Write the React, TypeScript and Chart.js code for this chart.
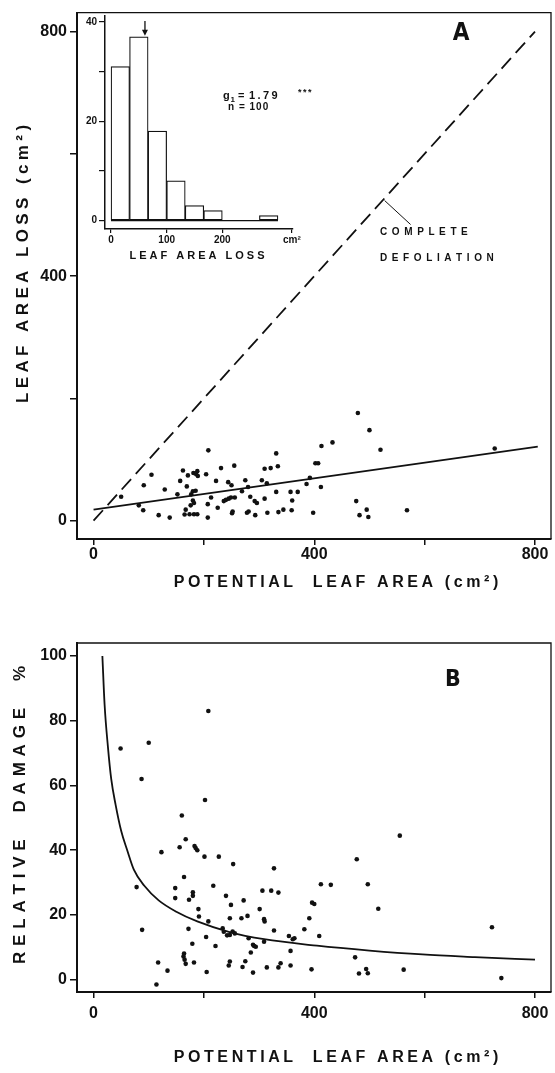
import React, { useEffect, useRef } from 'react';
import { Chart, registerables } from 'chart.js';

Chart.register(...registerables);

const FONT = "'Liberation Sans', Arial, Helvetica, sans-serif";
const NARROW = "'Liberation Sans Narrow', 'DejaVu Sans Condensed', 'Liberation Sans', sans-serif";
const INK = '#111';

// ---------- Panel A : leaf area loss vs potential leaf area ----------
const A_POTENTIAL_AREA = [
  479, 500, 520, 727, 433, 413, 402, 407, 331, 334, 321, 310, 255, 231, 208, 162, 171, 181, 188, 186,
  189, 204, 157, 169, 180, 185, 177, 105, 91, 50, 129, 152, 82, 90, 118, 138, 165, 174, 182, 188,
  167, 180, 182, 176, 207, 207, 213, 222, 225, 236, 240, 245, 249, 256, 251, 252, 244, 250, 269, 275,
  280, 284, 292, 296, 293, 278, 281, 310, 305, 314, 315, 335, 344, 331, 357, 370, 360, 359, 386, 392,
  398, 412, 476, 482, 495, 498, 568,
];
const A_LEAF_LOSS = [
  176, 148, 116, 118, 128, 122, 94, 94, 110, 89, 86, 85, 90, 86, 115, 82, 74, 78, 81, 76,
  73, 76, 65, 56, 48, 49, 43, 75, 58, 39, 51, 43, 25, 17, 9, 5, 10, 10.5, 10.5, 10.5,
  18, 33, 29, 25, 27, 5, 38, 65, 21, 32, 34, 36, 38, 38, 12, 15, 63, 58, 48, 66,
  55, 39, 32, 29, 9, 13, 15, 36, 66, 61, 13, 14, 18, 47, 47, 47, 33, 17, 60, 70,
  13, 55, 32, 9, 18, 6, 17,
];
const A_REGRESSION_X = [0, 805];
const A_REGRESSION_Y = [18, 121];
const DEFOLIATION_X = [0, 800];
const DEFOLIATION_Y = [0, 800];
const MAIN_TICK_LABELS = [0, 400, 800];

// ---------- Inset : histogram of leaf area loss ----------
const HIST_BIN_CENTERS = [16.7, 50, 83.3, 116.7, 150, 183.3, 216.7, 250, 283.3];
const HIST_COUNTS = [31, 37, 18, 8, 3, 2, 0, 0, 1];
const INSET_X_TICKS = [0, 100, 200];
const INSET_UNIT_AT = 325;
const INSET_Y_LABELS = [0, 20, 40];
const HIST_ARROW = { x: 61, from: 39.6, to: 37.2 };

// ---------- Panel B : relative damage vs potential leaf area ----------
const B_POTENTIAL_AREA = [
  78, 88, 123, 117, 114, 134, 148, 148, 156, 167, 164, 172, 173, 180, 180, 183, 185, 188, 201, 227,
  253, 179, 164, 163, 165, 167, 182, 190, 191, 204, 208, 205, 221, 217, 234, 240, 249, 247, 236, 242,
  247, 252, 256, 247, 245, 268, 272, 279, 270, 275, 281, 285, 289, 291, 294, 289, 301, 306, 309, 310,
  309, 314, 322, 327, 327, 335, 335, 339, 354, 357, 357, 361, 364, 382, 391, 396, 400, 395, 409, 412,
  430, 474, 477, 481, 494, 497, 497, 516, 555, 562, 722, 739, 49, 100, 87, 208, 202, 160,
];
const B_RELATIVE_DAMAGE = [
  28.6, 15.4, 39.4, 5.3, -1.5, 2.8, 28.3, 25.2, 40.9, 43.4, 31.7, 15.7, 24.7, 27.0, 25.9, 41.3, 40.7, 40.0, 38.0, 38.0,
  35.7, 11.1, 8.1, 7.2, 6.2, 4.9, 5.3, 21.8, 19.5, 13.2, 18.0, 2.4, 10.4, 29.0, 15.9, 25.9, 23.1, 19.0, 14.8, 13.7,
  13.8, 14.9, 14.3, 5.6, 4.4, 19.0, 24.5, 19.7, 3.9, 5.7, 12.8, 8.4, 10.8, 10.4, 10.2, 2.2, 21.8, 27.5, 18.7, 18.0,
  11.7, 3.8, 27.5, 34.4, 15.2, 26.9, 3.8, 5.1, 13.5, 8.9, 4.4, 12.5, 12.8, 15.6, 19.0, 23.8, 23.4, 3.2, 13.5, 29.5,
  29.3, 6.9, 37.2, 1.9, 3.3, 2.0, 29.5, 21.9, 44.5, 3.1, 16.2, 0.5, 71.4, 73.2, 62.0, 83.0, 55.5, 50.7,
];
const B_CURVE_X = [16, 20, 26, 32, 40, 50, 61, 73, 92, 118, 150, 188, 245, 309, 405, 500, 596, 691, 800];
const B_CURVE_Y = [100, 85, 72, 62, 54, 46, 40, 34, 29, 24.5, 21, 18, 14.8, 12.5, 10.5, 9.0, 7.8, 7.0, 6.2];
const B_Y_TICKS = [0, 20, 40, 60, 80, 100];

const zip = (xs: number[], ys: number[]) => xs.map((x, i) => ({ x, y: ys[i] }));

function spacedText(
  ctx: CanvasRenderingContext2D,
  text: string,
  x: number,
  y: number,
  font: string,
  spacing: number,
  align: 'center' | 'left' = 'center',
  rotate = 0,
) {
  ctx.save();
  ctx.font = font;
  ctx.fillStyle = INK;
  ctx.textBaseline = 'middle';
  ctx.textAlign = 'left';
  ctx.translate(x, y);
  if (rotate) ctx.rotate(rotate);
  const chars = Array.from(text);
  const widths = chars.map((c) => ctx.measureText(c).width);
  const total = widths.reduce((a, b) => a + b, 0) + spacing * (chars.length - 1);
  let cx = align === 'center' ? -total / 2 : 0;
  chars.forEach((c, i) => {
    ctx.fillText(c, cx, 0);
    cx += widths[i] + spacing;
  });
  ctx.restore();
}

const framePlugin = {
  id: 'frame',
  afterDraw(chart: any) {
    const { ctx, chartArea: a } = chart;
    ctx.save();
    ctx.strokeStyle = INK;
    ctx.lineWidth = 1.3;
    ctx.beginPath();
    ctx.moveTo(a.left, a.top);
    ctx.lineTo(a.right, a.top);
    ctx.lineTo(a.right, a.bottom);
    ctx.stroke();
    ctx.restore();
  },
};

const tickFont = { family: FONT, size: 16, weight: 'bold' as const };

function mainAxes(yMin: number, yMax: number, yStep: number, yLabels: number[], xPad: number, xHeight: number) {
  return {
    x: {
      type: 'linear' as const,
      min: -30,
      max: 829,
      afterFit: (s: any) => {
        s.height = xHeight;
      },
      ticks: {
        stepSize: 200,
        includeBounds: false,
        autoSkip: false,
        maxRotation: 0,
        color: INK,
        font: tickFont,
        padding: xPad,
        callback: (v: any) => (MAIN_TICK_LABELS.includes(Number(v)) ? String(v) : ''),
      },
      grid: { drawOnChartArea: false, drawTicks: true, tickLength: 6, color: INK, lineWidth: 1.5 },
      border: { display: true, color: INK, width: 2 },
    },
    y: {
      type: 'linear' as const,
      min: yMin,
      max: yMax,
      afterFit: (s: any) => {
        s.width = 77;
      },
      ticks: {
        stepSize: yStep,
        includeBounds: false,
        autoSkip: false,
        color: INK,
        font: tickFont,
        padding: 3,
        callback: (v: any) => (yLabels.includes(Number(v)) ? String(v) : ''),
      },
      grid: { drawOnChartArea: false, drawTicks: true, tickLength: 7, color: INK, lineWidth: 1.5 },
      border: { display: true, color: INK, width: 2 },
    },
  };
}

export default function App() {
  const refA = useRef<HTMLCanvasElement>(null);
  const refInset = useRef<HTMLCanvasElement>(null);
  const refB = useRef<HTMLCanvasElement>(null);

  useEffect(() => {
    const charts: Chart[] = [];

    // ---- Panel A ----
    const textA = {
      id: 'textA',
      afterDraw(chart: any) {
        const { ctx, scales } = chart;
        spacedText(ctx, 'LEAF AREA LOSS (cm²)', 23, 264, `bold 17px ${FONT}`, 4.4, 'center', -Math.PI / 2);
        spacedText(ctx, 'POTENTIAL  LEAF AREA (cm²)', 336, 583, `bold 16px ${FONT}`, 3.6);
        spacedText(ctx, 'A', 461, 34, `bold 24px ${NARROW}`, 0);
        spacedText(ctx, 'COMPLETE', 380, 232, `bold 10px ${FONT}`, 4.6, 'left');
        spacedText(ctx, 'DEFOLIATION', 380, 258, `bold 10px ${FONT}`, 4.6, 'left');
        const px = scales.x.getPixelForValue(522);
        const py = scales.y.getPixelForValue(522);
        ctx.save();
        ctx.strokeStyle = INK;
        ctx.lineWidth = 1;
        ctx.beginPath();
        ctx.moveTo(px + 3, py - 1);
        ctx.lineTo(px + 29, py + 23);
        ctx.stroke();
        ctx.restore();
      },
    };
    charts.push(
      new Chart(refA.current!, {
        type: 'scatter',
        data: {
          datasets: [
            {
              type: 'line',
              data: zip(DEFOLIATION_X, DEFOLIATION_Y),
              borderColor: INK,
              borderWidth: 1.8,
              borderDash: [14, 7],
              pointRadius: 0,
              showLine: true,
              fill: false,
            } as any,
            {
              type: 'line',
              data: zip(A_REGRESSION_X, A_REGRESSION_Y),
              borderColor: INK,
              borderWidth: 1.8,
              pointRadius: 0,
              showLine: true,
              fill: false,
            } as any,
            {
              data: zip(A_POTENTIAL_AREA, A_LEAF_LOSS),
              pointRadius: 2.3,
              pointBackgroundColor: INK,
              pointBorderWidth: 0,
              backgroundColor: INK,
              borderColor: INK,
            },
          ],
        },
        options: {
          responsive: false,
          animation: false,
          layout: { padding: { top: 7, right: 1, left: 0, bottom: 0 } },
          plugins: { legend: { display: false }, tooltip: { enabled: false } },
          scales: mainAxes(-30, 831, 200, MAIN_TICK_LABELS, 0, 61) as any,
        },
        plugins: [framePlugin, textA],
      }),
    );

    // ---- Inset histogram ----
    const textInset = {
      id: 'textInset',
      afterDraw(chart: any) {
        const { ctx, scales } = chart;
        const ax = scales.x.getPixelForValue(HIST_ARROW.x);
        const ay1 = scales.y.getPixelForValue(HIST_ARROW.from);
        const ay2 = scales.y.getPixelForValue(HIST_ARROW.to);
        ctx.save();
        ctx.strokeStyle = INK;
        ctx.fillStyle = INK;
        ctx.lineWidth = 1.3;
        ctx.beginPath();
        ctx.moveTo(ax, ay1 - 3);
        ctx.lineTo(ax, ay2 - 4);
        ctx.stroke();
        ctx.beginPath();
        ctx.moveTo(ax - 3, ay2 - 6);
        ctx.lineTo(ax + 3, ay2 - 6);
        ctx.lineTo(ax, ay2);
        ctx.closePath();
        ctx.fill();
        // baseline under empty bins
        const y0 = scales.y.getPixelForValue(0);
        ctx.lineWidth = 1.2;
        ctx.beginPath();
        ctx.moveTo(scales.x.getPixelForValue(HIST_BIN_CENTERS[0] - 16.7), y0);
        ctx.lineTo(scales.x.getPixelForValue(HIST_BIN_CENTERS[HIST_BIN_CENTERS.length - 1] + 16.7), y0);
        ctx.stroke();
        // statistics
        ctx.textBaseline = 'middle';
        ctx.textAlign = 'left';
        ctx.font = `bold 11px ${FONT}`;
        let x = 163;
        ctx.fillText('g', x, 88);
        x += ctx.measureText('g').width + 0.8;
        ctx.font = `bold 8px ${FONT}`;
        ctx.fillText('1', x, 92);
        x += ctx.measureText('1').width + 3;
        ctx.restore();
        spacedText(ctx, '=', x, 88, `bold 11px ${FONT}`, 0, 'left');
        spacedText(ctx, '1.79', x + 11, 88, `bold 11px ${FONT}`, 2.4, 'left');
        spacedText(ctx, '***', 238, 85, `bold 9px ${FONT}`, 1.5, 'left');
        spacedText(ctx, 'n = 100', 168, 99, `bold 10px ${FONT}`, 1.0, 'left');
        spacedText(ctx, 'LEAF AREA LOSS', 137, 248, `bold 11px ${FONT}`, 3);
      },
    };
    charts.push(
      new Chart(refInset.current!, {
        type: 'bar',
        data: {
          datasets: [
            {
              data: zip(HIST_BIN_CENTERS, HIST_COUNTS),
              backgroundColor: '#fff',
              borderColor: INK,
              borderWidth: 1.2,
              borderSkipped: false,
              barPercentage: 1,
              categoryPercentage: 1,
            } as any,
          ],
        },
        options: {
          responsive: false,
          animation: false,
          layout: { padding: { top: 7, right: 27, left: 0, bottom: 0 } },
          plugins: { legend: { display: false }, tooltip: { enabled: false } },
          scales: {
            x: {
              type: 'linear',
              min: -10.8,
              max: 327,
              offset: false,
              afterFit: (s: any) => {
                s.height = 39;
              },
              afterBuildTicks: (s: any) => {
                s.ticks = INSET_X_TICKS.concat([INSET_UNIT_AT]).map((v) => ({ value: v }));
              },
              ticks: {
                autoSkip: false,
                maxRotation: 0,
                color: INK,
                padding: 1,
                font: { family: FONT, size: 10, weight: 'bold' },
                callback: (v: any) => (Number(v) === INSET_UNIT_AT ? 'cm²' : String(v)),
              },
              grid: { offset: false, drawOnChartArea: false, tickLength: 4, color: INK, lineWidth: 1.2 },
              border: { display: true, color: INK, width: 1.5 },
            },
            y: {
              type: 'linear',
              min: -1.7,
              max: 41.2,
              afterFit: (s: any) => {
                s.width = 45;
              },
              ticks: {
                stepSize: 10,
                includeBounds: false,
                autoSkip: false,
                color: INK,
                padding: 2,
                font: { family: FONT, size: 10, weight: 'bold' },
                callback: (v: any) => (INSET_Y_LABELS.includes(Number(v)) ? String(v) : ''),
              },
              grid: { drawOnChartArea: false, tickLength: 6, color: INK, lineWidth: 1.2 },
              border: { display: true, color: INK, width: 1.5 },
            },
          },
        } as any,
        plugins: [textInset],
      }),
    );

    // ---- Panel B ----
    const textB = {
      id: 'textB',
      afterDraw(chart: any) {
        const { ctx } = chart;
        spacedText(ctx, 'RELATIVE  DAMAGE  %', 20, 195, `bold 17px ${FONT}`, 5.8, 'center', -Math.PI / 2);
        spacedText(ctx, 'POTENTIAL  LEAF AREA (cm²)', 336, 438, `bold 16px ${FONT}`, 3.6);
        spacedText(ctx, 'B', 453, 60, `bold 23px ${NARROW}`, 0);
      },
    };
    charts.push(
      new Chart(refB.current!, {
        type: 'scatter',
        data: {
          datasets: [
            {
              type: 'line',
              data: zip(B_CURVE_X, B_CURVE_Y),
              borderColor: INK,
              borderWidth: 1.8,
              pointRadius: 0,
              showLine: true,
              fill: false,
              cubicInterpolationMode: 'monotone',
            } as any,
            {
              data: zip(B_POTENTIAL_AREA, B_RELATIVE_DAMAGE),
              pointRadius: 2.3,
              pointBackgroundColor: INK,
              pointBorderWidth: 0,
              backgroundColor: INK,
              borderColor: INK,
            },
          ],
        },
        options: {
          responsive: false,
          animation: false,
          layout: { padding: { top: 23, right: 1, left: 0, bottom: 0 } },
          plugins: { legend: { display: false }, tooltip: { enabled: false } },
          scales: mainAxes(-3.8, 104, 20, B_Y_TICKS, 6, 81) as any,
        },
        plugins: [framePlugin, textB],
      }),
    );

    return () => charts.forEach((c) => c.destroy());
  }, []);

  return (
    <div style={{ position: 'absolute', left: 0, top: 0, width: 555, height: 1073, background: '#fff' }}>
      <canvas ref={refA} width={555} height={600} style={{ position: 'absolute', left: 0, top: 0 }} />
      <canvas ref={refInset} width={260} height={260} style={{ position: 'absolute', left: 60, top: 8 }} />
      <canvas ref={refB} width={555} height={453} style={{ position: 'absolute', left: 0, top: 620 }} />
    </div>
  );
}
